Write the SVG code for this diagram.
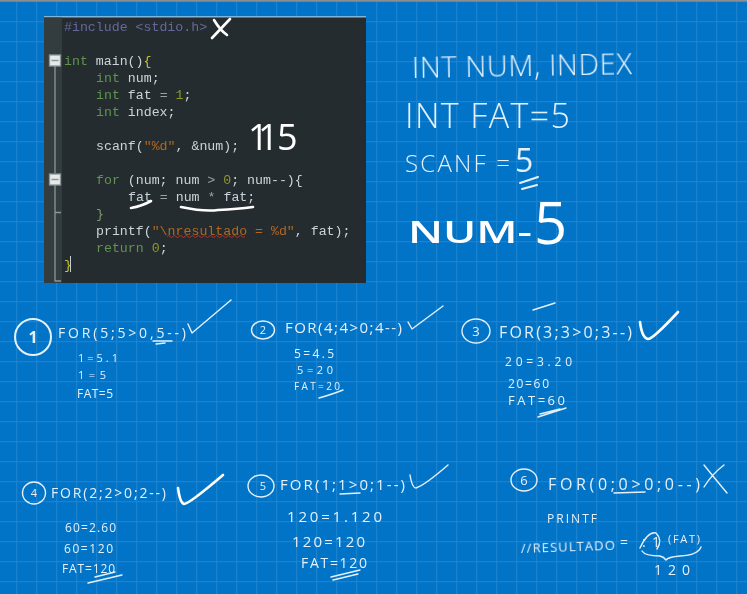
<svg xmlns="http://www.w3.org/2000/svg" width="747" height="594" viewBox="0 0 747 594">
<style>
.code{font-family:"Liberation Mono",monospace;font-size:13.25px;fill:#c9d4da;white-space:pre;filter:url(#soft)}
.kw{fill:#5f9450}.pp{fill:#68669c}.str{fill:#b3671f}.num{fill:#8c9a1e}.br{fill:#c5c52b}.op{fill:#9aa39f}.dim{fill:#7d9a6a}
.h{font-family:"Open Sans",sans-serif;fill:#e4f0fa;filter:url(#soft)}
.l{font-weight:300}
.s{fill:none;stroke:#e4f0fa;stroke-width:1.4;stroke-linecap:round;stroke-linejoin:round;filter:url(#soft)}
.m{stroke-width:2}.w{stroke:#fff;stroke-width:2.6}
.f{fill:none;stroke:#8b9698;stroke-width:1.3}
</style>
<defs>
<filter id="soft" x="-10%" y="-30%" width="120%" height="160%"><feGaussianBlur stdDeviation="0.4"/></filter>
<pattern id="grid" x="16.2" y="1.2" width="20" height="20" patternUnits="userSpaceOnUse"><path d="M0 0.500H20M0.500 0V20" fill="none" stroke="#2185ce" stroke-width="1"/></pattern>
</defs>
<rect width="747" height="594" fill="#0274c8"/>
<rect width="747" height="594" fill="url(#grid)"/>
<rect width="747" height="1.5" fill="#8c8f92"/>

<g id="code-panel">
<rect x="44" y="16" width="322" height="267" fill="#252c2f"/>
<rect x="44" y="16" width="322" height="1.5" fill="#7db5dc"/>
<rect x="44" y="17.500" width="18" height="265.500" fill="#333d3f"/>
<path class="f" d="M55 66V173M55 185V281H61M55 212.500H61"/>
<rect x="49.500" y="55" width="11" height="11" fill="#e8eaea" stroke="#8b9698" stroke-width="1.300"/>
<path d="M51.500 60.500H58.500" stroke="#8b9698" stroke-width="1.500"/>
<rect x="49.500" y="174" width="11" height="11" fill="#e8eaea" stroke="#8b9698" stroke-width="1.300"/>
<path d="M51.500 179.500H58.500" stroke="#8b9698" stroke-width="1.500"/>
<text class="code" x="64" y="31"><tspan class="pp">#include &lt;stdio.h&gt;</tspan></text>
<text class="code" x="64" y="65"><tspan class="kw">int</tspan> main()<tspan class="br">{</tspan></text>
<text class="code" x="96" y="82"><tspan class="kw">int</tspan> num;</text>
<text class="code" x="96" y="99"><tspan class="kw">int</tspan> fat <tspan class="op">=</tspan> <tspan class="num">1</tspan>;</text>
<text class="code" x="96" y="116"><tspan class="kw">int</tspan> index;</text>
<text class="code" x="96" y="150">scanf(<tspan class="str">"%d"</tspan>, &amp;num);</text>
<text class="code" x="96" y="184"><tspan class="kw">for</tspan> (num; num <tspan class="op">&gt;</tspan> <tspan class="num">0</tspan>; num--){</text>
<text class="code" x="128" y="201">fat <tspan class="op">=</tspan> num <tspan class="op">*</tspan> fat;</text>
<text class="code" x="96" y="218"><tspan class="dim">}</tspan></text>
<text class="code" x="96" y="235">printf(<tspan class="str">"\nresultado = %d"</tspan>, fat);</text>
<text class="code" x="96" y="252"><tspan class="kw">return</tspan> <tspan class="num">0</tspan>;</text>
<text class="code" x="64" y="269"><tspan class="br">}</tspan></text>
<path d="M70.500 256V272" stroke="#c3ced4" stroke-width="1"/>
<path d="M167 236.500q1.500-2 3 0t3 0t3 0t3 0t3 0t3 0t3 0t3 0t3 0t3 0t3 0t3 0t3 0t3 0t3 0t3 0t3 0t3 0t3 0t3 0t3 0t3 0t3 0t3 0t3 0t3 0" fill="none" stroke="#c8302a" stroke-width="0.900"/>
</g>

<g id="code-annotations">
<path class="s w" d="M212 38L230 19M214 20Q220 30 227 35"/>
<path class="s w" d="M98 70H114" stroke-width="2"/>
<path class="s w" d="M131 208Q142 206 151 201M181 207Q205 212 218 210Q238 209 253 207"/>
<text class="h" x="248 258 277" y="150" font-size="36" style="fill:#fff">115</text>
</g>

<g id="notes">
<text class="h l" x="412" y="78" font-size="29" textLength="220" lengthAdjust="spacing" transform="rotate(-1 412 78)">INT NUM, INDEX</text>
<text class="h l" x="405" y="128" font-size="34" textLength="165" lengthAdjust="spacing">INT FAT=5</text>
<text class="h l" x="405" y="172" font-size="24" textLength="105" lengthAdjust="spacing">SCANF =</text>
<text class="h" x="515" y="172" font-size="32">5</text>
<path class="s m" d="M520 183L538 177M522 189L537 185"/>
<text class="h" x="408" y="243" font-size="31" font-weight="600" textLength="124" lengthAdjust="spacingAndGlyphs" style="fill:#fff">NUM-</text>
<text class="h" x="534" y="244" font-size="58" style="fill:#fff">5</text>
</g>

<g id="step-1">
<ellipse class="s m" cx="33" cy="337" rx="18" ry="18"/>
<text class="h" x="33" y="343" font-size="16" font-weight="700" text-anchor="middle">1</text>
<text class="h" x="58" y="338" font-size="14" textLength="128" lengthAdjust="spacing">FOR(5;5&gt;0,5--)</text>
<path class="s" d="M188 324L192 333L231 300M153 341H172M156 344L165 343"/>
<text class="h" x="78" y="362" font-size="11" textLength="40" lengthAdjust="spacing">1=5.1</text>
<text class="h" x="78" y="379" font-size="11" textLength="28" lengthAdjust="spacing">1=5</text>
<text class="h" x="77" y="398" font-size="12" textLength="36" lengthAdjust="spacing">FAT=5</text>
</g>

<g id="step-2">
<ellipse class="s" cx="263" cy="330" rx="11.500" ry="9"/>
<text class="h" x="263" y="334" font-size="11" text-anchor="middle">2</text>
<text class="h" x="285" y="333" font-size="15" textLength="117" lengthAdjust="spacing">FOR(4;4&gt;0;4--)</text>
<path class="s" d="M408 322L412 329L443 306"/>
<text class="h" x="294" y="358" font-size="12" textLength="40" lengthAdjust="spacing">5=4.5</text>
<text class="h" x="297" y="374" font-size="11" textLength="36" lengthAdjust="spacing">5=20</text>
<text class="h" x="294" y="390" font-size="10" textLength="46" lengthAdjust="spacing">FAT=20</text>
<path class="s" d="M319 398Q333 394 343 390"/>
</g>

<g id="step-3">
<ellipse class="s" cx="476" cy="331" rx="14" ry="12"/>
<text class="h" x="476" y="336" font-size="13" text-anchor="middle">3</text>
<text class="h" x="499" y="338" font-size="16" textLength="133" lengthAdjust="spacing">FOR(3;3&gt;0;3--)</text>
<path class="s w" d="M640 322Q642 338 648 339Q653 339 678 312"/>
<path class="s" d="M533 310L555 303"/>
<text class="h" x="505" y="366" font-size="12" textLength="67" lengthAdjust="spacing">20=3.20</text>
<text class="h" x="508" y="388" font-size="12" textLength="41" lengthAdjust="spacing">20=60</text>
<text class="h" x="508" y="405" font-size="13" textLength="57" lengthAdjust="spacing">FAT=60</text>
<path class="s" d="M538 417L566 408M540 414L560 409"/>
</g>

<g id="step-4">
<ellipse class="s" cx="34" cy="493" rx="11.500" ry="11"/>
<text class="h" x="34" y="497" font-size="11" text-anchor="middle">4</text>
<text class="h" x="51" y="498" font-size="14" textLength="115" lengthAdjust="spacing">FOR(2;2&gt;0;2--)</text>
<path class="s w" d="M178 488Q180 503 184 504Q189 504 223 475"/>
<text class="h" x="65" y="532" font-size="12" textLength="51" lengthAdjust="spacing">60=2.60</text>
<text class="h" x="64" y="553" font-size="12" textLength="49" lengthAdjust="spacing">60=120</text>
<text class="h" x="62" y="573" font-size="12" textLength="53" lengthAdjust="spacing">FAT=120</text>
<path class="s" d="M88 583L122 575M95 577L115 572"/>
</g>

<g id="step-5">
<ellipse class="s" cx="261" cy="486" rx="13" ry="11"/>
<text class="h" x="263" y="490" font-size="11" text-anchor="middle">5</text>
<text class="h" x="280" y="490" font-size="15" textLength="125" lengthAdjust="spacing">FOR(1;1&gt;0;1--)</text>
<path class="s" d="M340 494L360 493M410 475Q412 488 416 488Q425 485 448 465"/>
<text class="h" x="287" y="522" font-size="15" textLength="95" lengthAdjust="spacing">120=1.120</text>
<text class="h" x="292" y="547" font-size="15" textLength="73" lengthAdjust="spacing">120=120</text>
<text class="h" x="301" y="568" font-size="14" textLength="66" lengthAdjust="spacing">FAT=120</text>
<path class="s" d="M331 577L360 570M333 580L358 574"/>
</g>

<g id="step-6">
<ellipse class="s" cx="524" cy="480" rx="13" ry="11"/>
<text class="h" x="524" y="485" font-size="13" text-anchor="middle">6</text>
<text class="h" x="548" y="490" font-size="16" textLength="152" lengthAdjust="spacing">FOR(0;0&gt;0;0--)</text>
<path class="s" d="M704 465Q716 480 727 493M724 465Q712 474 704 487M614 493L645 492"/>
<text class="h" x="547" y="523" font-size="12" textLength="50" lengthAdjust="spacing">PRINTF</text>
<text class="h" x="521" y="553" font-size="13" textLength="94" lengthAdjust="spacing" transform="rotate(-2 521 553)">//RESULTADO</text>
<text class="h" x="620" y="547" font-size="14">=</text>
<text class="h" x="642" y="547" font-size="14" textLength="18" lengthAdjust="spacing">:1</text>
<text class="h" x="668" y="543" font-size="11" textLength="32" lengthAdjust="spacing">(FAT)</text>
<path class="s" d="M640 548Q648 531 656 533Q663 540 657 549M642 551Q645 556 660 556Q664 557 666 560Q668 557 680 556Q698 555 701 547"/>
<text class="h" x="654" y="575" font-size="14" textLength="36" lengthAdjust="spacing">120</text>
</g>
</svg>
